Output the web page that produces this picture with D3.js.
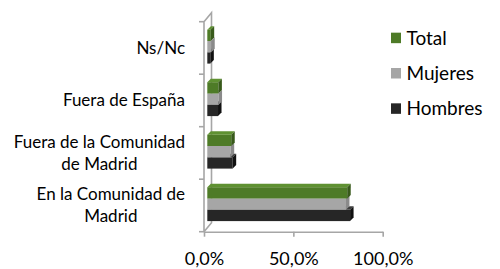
<!DOCTYPE html>
<html>
<head>
<meta charset="utf-8">
<script src="https://cdn.jsdelivr.net/npm/d3@7"></script>
<style>
  html, body { margin: 0; padding: 0; background: #fff; }
  svg { display: block; font-family: Lato, "Open Sans", sans-serif; }
</style>
</head>
<body>
<div id="chart"></div>
<script>
// chart data (percent)
const categories = ["Ns/Nc", "Fuera de España", "Fuera de la Comunidad de Madrid", "En la Comunidad de Madrid"];
const seriesNames = ["Total", "Mujeres", "Hombres"];
const total   = [1.9, 6.2, 13.4, 78.3];
const mujeres = [2.2, 6.3, 13.1, 77.6];
const hombres = [1.7, 6.0, 14.2, 79.9];
const xTicks = [0, 50, 100];

const seriesValues = [total, mujeres, hombres];
const colors = {
    Total:   { front: "#4e7b27", top: "#5f9132", side: "#385a1b" },
    Mujeres: { front: "#a6a6a6", top: "#bdbdbd", side: "#8a8a8a" },
    Hombres: { front: "#262626", top: "#3c3c3c", side: "#111111" }
};

const width = 500, height = 269;
const depth = 3.5;      // 3d offset of bars
const wallDx = 7.5, wallDy = -9; // 3d offset of the walls
const frameColor = "#a6a6a6";

const svg = d3.select("#chart").append("svg")
    .attr("width", width)
    .attr("height", height);

const x = d3.scaleLinear().domain([0, 100]).range([204, 382.7]);
const y = d3.scaleBand().domain(categories).range([21.7, 231.7]);
const ySeries = d3.scaleBand().domain(seriesNames).range([8, 8 + 3 * 11.3]);
const barShift = 3.3; // bars sit a bit behind the front axis

// walls (back + side)
const x0 = x(0), yTop = y.range()[0], yBot = y.range()[1];
const frame = svg.append("g")
    .attr("fill", "none")
    .attr("stroke", frameColor)
    .attr("stroke-width", 1.6);
frame.append("path")
    .attr("d", `M${x0},${yBot} L${x0},${yTop} L${x0 + wallDx},${yTop + wallDy} L${x0 + wallDx},${yBot + wallDy} L${x0},${yBot}`);

// category tick marks on the left axis
const boundaries = categories.map(c => y(c)).concat([yBot]);
frame.selectAll("line.ytick")
    .data(boundaries)
    .join("line")
    .attr("class", "ytick")
    .attr("x1", x0 - 5).attr("x2", x0)
    .attr("y1", d => d).attr("y2", d => d);

// bars: draw the lowest series first so upper bars hide its top face
const rows = [];
categories.forEach((c, i) => {
    seriesNames.forEach((s, j) => {
        rows.push({ cat: c, series: s, value: seriesValues[j][i], order: j });
    });
});
rows.sort((a, b) => b.order - a.order);

const barH = ySeries.bandwidth();
const bars = svg.append("g").selectAll("g")
    .data(rows)
    .join("g");

bars.each(function (d) {
    const g = d3.select(this);
    const bx0 = x(0) + barShift;
    const bx1 = x(d.value) + barShift;
    const by = y(d.cat) + ySeries(d.series);
    const col = colors[d.series];
    g.append("rect")
        .attr("x", bx0).attr("y", by)
        .attr("width", bx1 - bx0).attr("height", barH)
        .attr("fill", col.front);
    g.append("path")
        .attr("d", `M${bx0},${by} L${bx0 + depth},${by - depth} L${bx1 + depth},${by - depth} L${bx1},${by} Z`)
        .attr("fill", col.top);
    g.append("path")
        .attr("d", `M${bx1},${by} L${bx1 + depth},${by - depth} L${bx1 + depth},${by + barH - depth} L${bx1},${by + barH} Z`)
        .attr("fill", col.side);
});

// x axis along the front floor edge
const fmt = d3.formatLocale({ decimal: ",", thousands: ".", grouping: [3], currency: ["", "€"] }).format(".1f");
const xAxis = svg.append("g")
    .attr("transform", `translate(0,${yBot})`)
    .call(d3.axisBottom(x).tickValues(xTicks).tickSize(5).tickSizeOuter(0).tickPadding(16)
        .tickFormat(d => fmt(d) + "%"));
xAxis.select(".domain").attr("stroke", frameColor).attr("stroke-width", 1.6);
xAxis.selectAll(".tick line").attr("stroke", frameColor).attr("stroke-width", 1.6);
xAxis.selectAll(".tick text")
    .attr("fill", "#000")
    .style("font-family", "Lato, 'Open Sans', sans-serif")
    .style("font-size", "18px");

// category labels, wrapped and right aligned
const labelRight = 185, maxLabelW = 180, lineGap = 22;
const labels = svg.append("g")
    .style("font-size", "17px")
    .attr("fill", "#000");

categories.forEach(c => {
    const t = labels.append("text").attr("text-anchor", "middle");
    // greedy wrap
    const words = c.split(" ");
    const lines = [];
    let cur = "";
    const probe = labels.append("text");
    words.forEach(w => {
        const test = cur ? cur + " " + w : w;
        probe.text(test);
        if (probe.node().getComputedTextLength() > maxLabelW && cur) {
            lines.push(cur);
            cur = w;
        } else {
            cur = test;
        }
    });
    lines.push(cur);
    const widths = lines.map(l => { probe.text(l); return probe.node().getComputedTextLength(); });
    probe.remove();
    const cx = labelRight - d3.max(widths) / 2;
    const cy = y(c) + y.bandwidth() / 2;
    lines.forEach((l, k) => {
        t.append("tspan")
            .attr("x", cx)
            .attr("y", cy + (k - (lines.length - 1) / 2) * lineGap)
            .attr("dy", "0.35em")
            .text(l);
    });
});

// legend
const legend = svg.append("g")
    .style("font-size", "19px");
const legendY = d3.scaleBand().domain(seriesNames).range([20, 126]);
const item = legend.selectAll("g")
    .data(seriesNames)
    .join("g")
    .attr("transform", d => `translate(391,${legendY(d) + legendY.bandwidth() / 2})`);
item.append("rect")
    .attr("x", 0).attr("y", -5)
    .attr("width", 10).attr("height", 10.5)
    .attr("fill", d => colors[d].front);
item.append("text")
    .attr("x", 15.5)
    .attr("dy", "0.36em")
    .attr("fill", "#000")
    .text(d => d);
</script>
</body>
</html>
